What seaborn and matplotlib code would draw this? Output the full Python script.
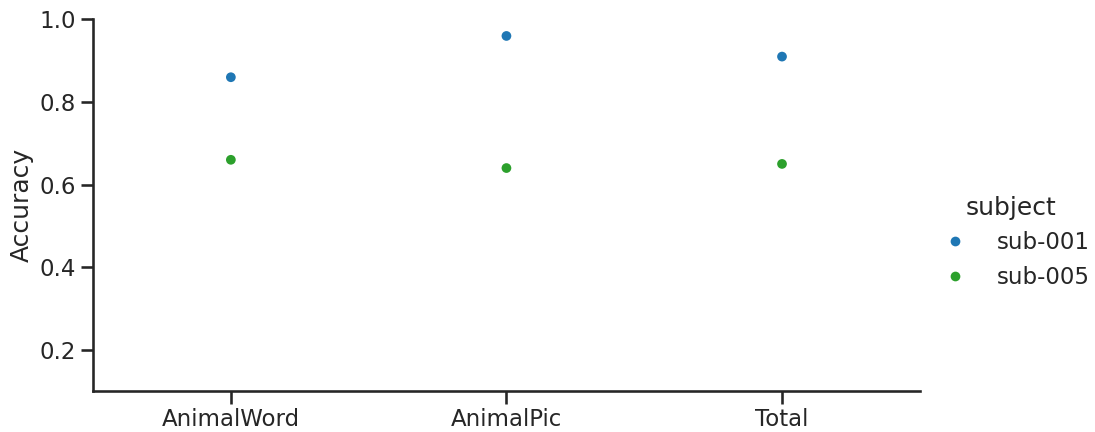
import pandas as pd
import matplotlib
matplotlib.use('Agg')
import matplotlib.pyplot as plt
import seaborn as sns

# Accuracy per condition and subject
conditions = ['AnimalWord', 'AnimalPic', 'Total']
subjects = ['sub-001', 'sub-005']
acc_sub001 = [0.86, 0.96, 0.91]
acc_sub005 = [0.66, 0.64, 0.65]

df = pd.DataFrame({
    'condition': conditions * 2,
    'subject': [subjects[0]] * 3 + [subjects[1]] * 3,
    'Accuracy': acc_sub001 + acc_sub005,
})

sns.set_context('talk')
sns.set_style('ticks')

fig, ax = plt.subplots(figsize=(10.95, 4.32), dpi=100)
sns.stripplot(data=df, x='condition', y='Accuracy', hue='subject',
              order=conditions, hue_order=subjects,
              palette={'sub-001': '#1f77b4', 'sub-005': '#2ca02c'},
              jitter=False, size=7, ax=ax)
ax.set_xlabel('')
ax.set_ylim(0.1, 1.0)
ax.set_yticks([0.2, 0.4, 0.6, 0.8, 1.0])
sns.despine(ax=ax)

leg = ax.legend(title='subject', frameon=False, loc='center left',
                bbox_to_anchor=(0.99, 0.40), handletextpad=0.8)

plt.subplots_adjust(left=0.085, right=0.84, top=0.955, bottom=0.095)
plt.savefig('out.png', dpi=100)
